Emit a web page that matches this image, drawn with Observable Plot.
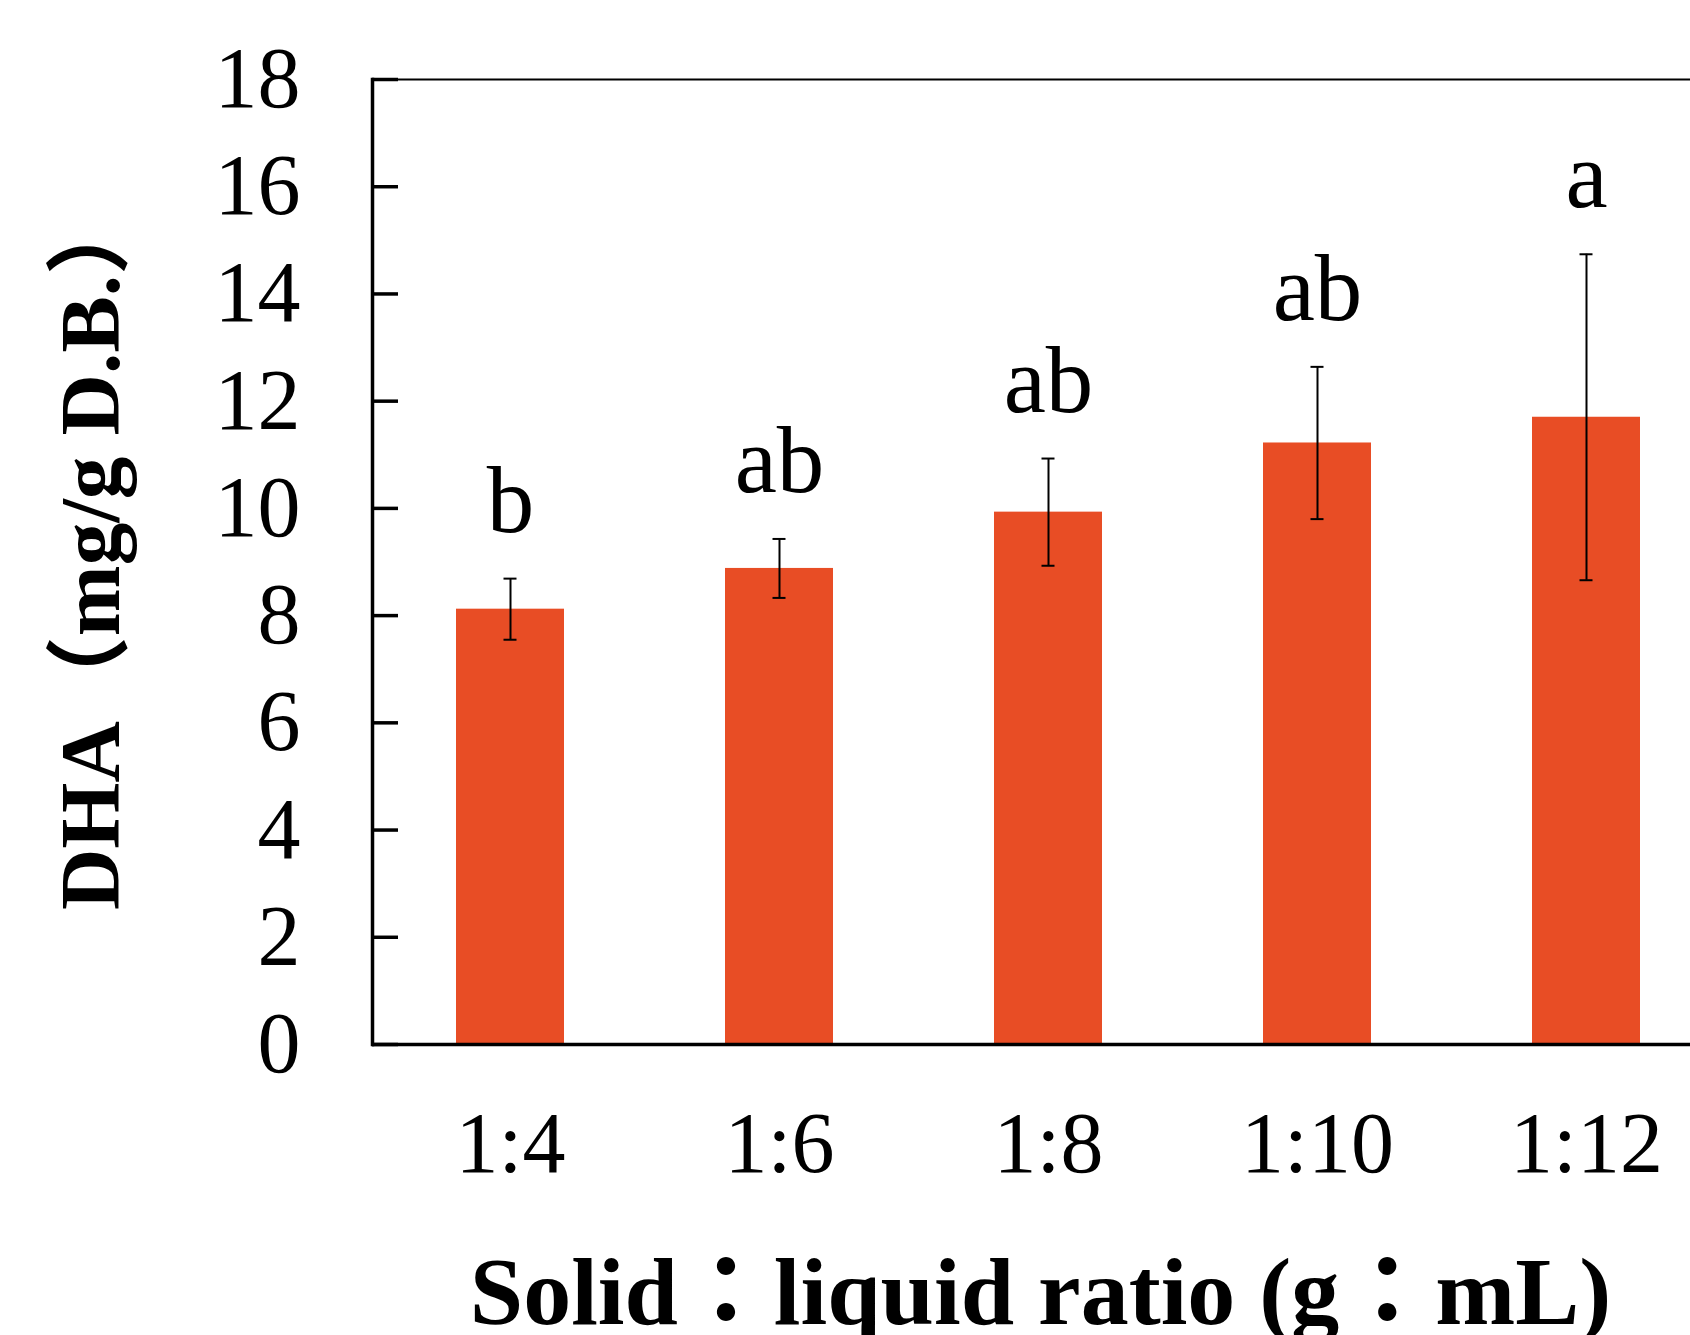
<!DOCTYPE html>
<html>
<head>
<meta charset="utf-8">
<script src="https://cdn.jsdelivr.net/npm/d3@7"></script>
<script src="https://cdn.jsdelivr.net/npm/@observablehq/plot@0.6"></script>
<style>
  html, body { margin: 0; padding: 0; background: #ffffff; }
  #chart { width: 1690px; height: 1335px; overflow: hidden; }
</style>
</head>
<body>
<div id="chart"></div>
<script>
const ratios = ["1:4", "1:6", "1:8", "1:10", "1:12"];
const means = [8.12, 8.88, 9.93, 11.22, 11.70];
const errors = [0.57, 0.55, 1.00, 1.42, 3.04];
const letters = ["b", "ab", "ab", "ab", "a"];
const yTicks = [0, 2, 4, 6, 8, 10, 12, 14, 16, 18];
const yLabel = "DHA（mg/g D.B.）";
const xLabel = "Solid：liquid ratio (g：mL)";

const data = ratios.map((r, i) => ({
  ratio: r,
  mean: means[i],
  lo: means[i] - errors[i],
  hi: means[i] + errors[i],
  letter: letters[i]
}));

const W = 1690, H = 1335;
const mL = 372, mT = 79, mB = 291, mR = 0;
const FONT = "'Liberation Serif', 'Noto Sans CJK TC', serif";
const FONT_Y = "'Liberation Serif', 'Noto Sans CJK SC', serif";
const plotW = W - mL - mR;

const chart = Plot.plot({
  width: W,
  height: H,
  marginLeft: mL,
  marginTop: mT,
  marginBottom: mB,
  marginRight: mR,
  style: { background: "#ffffff", color: "#000000", fontFamily: FONT },
  x: { domain: ratios, range: [mL, 1724], paddingInner: 0.6, paddingOuter: 0.304, label: null },
  y: { domain: [0, 18], label: null },
  marks: [
    Plot.barY(data, { x: "ratio", y: "mean", fill: "#e84d25" }),
    Plot.ruleX(data, { x: "ratio", y1: "lo", y2: "hi", stroke: "#000", strokeWidth: 2 }),
    Plot.tickY(data, { x: "ratio", y: "hi", stroke: "#000", strokeWidth: 2, inset: 47.5 }),
    Plot.tickY(data, { x: "ratio", y: "lo", stroke: "#000", strokeWidth: 2, inset: 47.5 }),
    Plot.text(data, { x: "ratio", y: "hi", text: "letter", dy: -47, lineAnchor: "bottom",
      fontSize: 95, fontFamily: FONT, fill: "#000" }),
    Plot.ruleY(yTicks, { y: (d) => d, stroke: "#000", strokeWidth: 3.5, insetRight: plotW - 26 }),
    Plot.ruleY([18], { stroke: "#000", strokeWidth: 2 }),
    Plot.ruleY([0], { stroke: "#000", strokeWidth: 3.5 }),
    Plot.frame({ anchor: "left", stroke: "#000", strokeWidth: 3.5 }),
    Plot.axisY({ ticks: yTicks, tickSize: 0, tickPadding: 72, fontSize: 86, fontFamily: FONT,
      tickFormat: (d) => String(d), label: null }),
    Plot.axisX({ tickSize: 0, tickPadding: 66, fontSize: 86, fontFamily: FONT, label: null }),
    Plot.text([yLabel], { text: (d) => d, frameAnchor: "left", rotate: -90, dx: -281, dy: -12,
      textAnchor: "middle", lineAnchor: "middle", fontSize: 85, fontWeight: "bold", fontFamily: FONT_Y, fill: "#000" }),
    Plot.text([xLabel], { text: (d) => d, frameAnchor: "bottom", dx: 9, dy: 279,
      textAnchor: "middle", lineAnchor: "bottom", fontSize: 96, fontWeight: "bold", fontFamily: FONT, fill: "#000" })
  ]
});

document.getElementById("chart").appendChild(chart);
</script>
</body>
</html>
